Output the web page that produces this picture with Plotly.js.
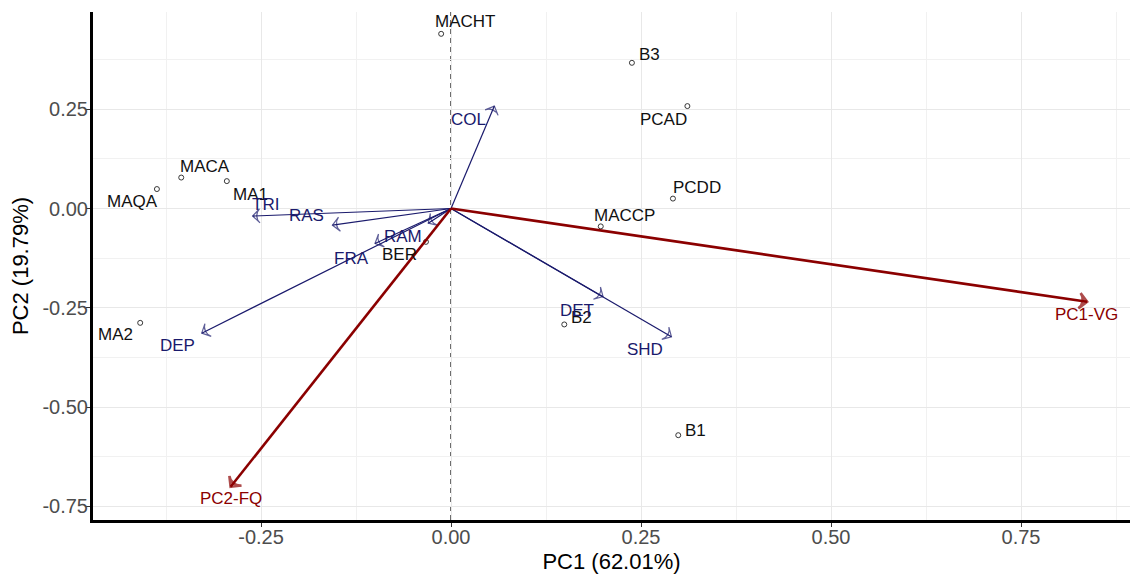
<!DOCTYPE html>
<html>
<head>
<meta charset="utf-8">
<script src="https://cdn.plot.ly/plotly-3.0.1.min.js"></script>
<style>html,body{margin:0;padding:0;background:#fff;}#chart{width:1133px;height:574px;}</style>
</head>
<body>
<div id="chart"></div>
<script>
// ---- Data ----
const sampleNames = ['MACHT','B3','PCAD','PCDD','MACCP','MACA','MAQA','MA1','BER','MA2','B2','B1'];
const sampleX = [-0.013, 0.238, 0.311, 0.292, 0.197, -0.355, -0.387, -0.295, -0.033, -0.409, 0.149, 0.299];
const sampleY = [0.440, 0.367, 0.258, 0.025, -0.045, 0.078, 0.049, 0.069, -0.084, -0.288, -0.292, -0.571];

const varNames = ['COL','TRI','RAS','RAM','FRA','DEP','DET','SHD'];
const varX = [0.057, -0.261, -0.156, -0.030, -0.100, -0.328, 0.200, 0.290];
const varY = [0.258, -0.019, -0.042, -0.037, -0.088, -0.314, -0.222, -0.323];

const suppNames = ['PC1-VG','PC2-FQ'];
const suppX = [0.837, -0.290];
const suppY = [-0.235, -0.701];

const xTickVals = [-0.25, 0, 0.25, 0.5, 0.75];
const xTickText = ['-0.25','0.00','0.25','0.50','0.75'];
const yTickVals = [0.25, 0, -0.25, -0.5, -0.75];
const yTickText = ['0.25','0.00','-0.25','-0.50','-0.75'];

// ---- Label offsets in pixels (style, not data) ----
const sampleLabelDX = [24, 18, -24, 24, 24, 24, -24, 24, -26, -25, 17, 17];
const sampleLabelDY = [-12, -8, 13, -11, -11, -11, 12, 13, 13, 12, -7, -5];
const varLabelDX = [-26, 13, -26, -25, -24, -24, -26, -26];
const varLabelDY = [13, -12, -10, 13, 15, 12, 14, 13];
const suppLabelDX = [-1, 0];
const suppLabelDY = [13, 12];

const FONT = 'Liberation Sans, Arial, sans-serif';
const NAVY = '#1a1a6c';
const DARKRED = '#8b0000';

const traces = [];
traces.push({
  type: 'scatter', mode: 'markers',
  x: sampleX, y: sampleY, text: sampleNames, hoverinfo: 'text',
  marker: {symbol: 'circle-open', size: 5, color: '#222', line: {width: 0.9}},
  showlegend: false
});

function arrowTrace(x1, y1, color, lw, headSize) {
  return {
    type: 'scatter', mode: 'lines+markers',
    x: [0, x1], y: [0, y1], hoverinfo: 'skip', showlegend: false,
    line: {color: color, width: lw},
    marker: {symbol: 'arrow-wide-open', size: [0, headSize], angleref: 'previous',
      color: color, line: {color: color, width: lw}}
  };
}
varNames.forEach((n, i) => traces.push(arrowTrace(varX[i], varY[i], NAVY, 1.2, 10)));
suppNames.forEach((n, i) => traces.push(arrowTrace(suppX[i], suppY[i], DARKRED, 2.6, 11)));

const annotations = [];
sampleNames.forEach((n, i) => {
  annotations.push({x: sampleX[i], y: sampleY[i], xref: 'x', yref: 'y', text: n, showarrow: false,
    xanchor: 'center', yanchor: 'middle', xshift: sampleLabelDX[i], yshift: -sampleLabelDY[i],
    font: {family: FONT, size: 17, color: '#111'}});
});
varNames.forEach((n, i) => {
  annotations.push({x: varX[i], y: varY[i], xref: 'x', yref: 'y', text: n, showarrow: false,
    xanchor: 'center', yanchor: 'middle', xshift: varLabelDX[i], yshift: -varLabelDY[i],
    font: {family: FONT, size: 17, color: NAVY}});
});
suppNames.forEach((n, i) => {
  annotations.push({x: suppX[i], y: suppY[i], xref: 'x', yref: 'y', text: n, showarrow: false,
    xanchor: 'center', yanchor: 'middle', xshift: suppLabelDX[i], yshift: -suppLabelDY[i],
    font: {family: FONT, size: 17, color: DARKRED}});
});

const layout = {
  width: 1133, height: 574,
  margin: {l: 93, r: 3, t: 12, b: 54},
  paper_bgcolor: '#fff', plot_bgcolor: '#fff',
  font: {family: FONT},
  showlegend: false,
  xaxis: {
    range: [-0.4711, 0.8934], zeroline: false,
    tickmode: 'array', tickvals: xTickVals, ticktext: xTickText,
    showgrid: true, gridcolor: '#e8e8e8', gridwidth: 1,
    minor: {dtick: 0.125, tick0: 0, showgrid: true, gridcolor: '#f1f1f1', gridwidth: 1},
    showline: true, linecolor: '#000', linewidth: 3,
    ticks: 'outside', ticklen: 4, tickwidth: 1, tickcolor: '#333',
    ticklabelstandoff: -7,
    tickfont: {family: FONT, size: 20, color: '#4d4d4d'},
    title: {text: 'PC1 (62.01%)', font: {family: FONT, size: 22, color: '#000'}, standoff: 7}
  },
  yaxis: {
    range: [-0.7846, 0.4950], zeroline: false,
    tickmode: 'array', tickvals: yTickVals, ticktext: yTickText,
    showgrid: true, gridcolor: '#e8e8e8', gridwidth: 1,
    minor: {dtick: 0.125, tick0: 0, showgrid: true, gridcolor: '#f1f1f1', gridwidth: 1},
    showline: true, linecolor: '#000', linewidth: 3,
    ticks: 'outside', ticklen: 4, tickwidth: 1, tickcolor: '#333',
    ticklabelstandoff: -6,
    tickfont: {family: FONT, size: 20, color: '#4d4d4d'},
    title: {text: 'PC2 (19.79%)', font: {family: FONT, size: 22, color: '#000'}, standoff: 8}
  },
  shapes: [
    {type: 'line', xref: 'x', yref: 'paper', x0: 0, x1: 0, y0: 0, y1: 1, layer: 'below',
      line: {color: '#000', width: 1.2, dash: '5px,4px'}},
    {type: 'line', xref: 'paper', yref: 'y', x0: 0, x1: 1, y0: 0, y1: 0, layer: 'below',
      line: {color: '#000', width: 1.2, dash: '5px,4px'}}
  ],
  annotations: annotations
};

Plotly.newPlot('chart', traces, layout, {staticPlot: true, displayModeBar: false});
</script>
</body>
</html>
